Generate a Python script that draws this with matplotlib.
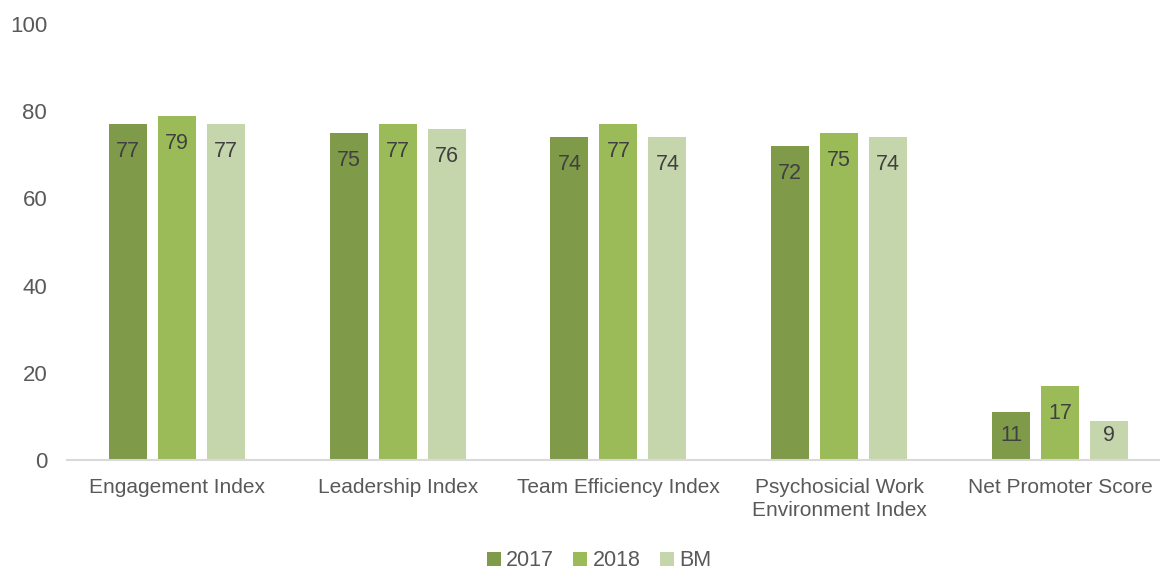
import numpy as np
import matplotlib
matplotlib.use("Agg")
import matplotlib.pyplot as plt

categories = ["Engagement Index", "Leadership Index", "Team Efficiency Index",
              "Psychosicial Work\nEnvironment Index", "Net Promoter Score"]
series_names = ["2017", "2018", "BM"]
values_2017 = [77, 75, 74, 72, 11]
values_2018 = [79, 77, 77, 75, 17]
values_bm = [77, 76, 74, 74, 9]
y_ticks = [0, 20, 40, 60, 80, 100]

colors = ["#7f9a48", "#9bbb59", "#c6d6ac"]
text_color = "#595959"
label_color = "#404040"

plt.rcParams["font.family"] = ["Liberation Sans", "DejaVu Sans"]

fig = plt.figure(figsize=(11.6, 5.7), dpi=100)
ax = fig.add_axes([66.6 / 1160, 110 / 570, 1103.75 / 1160, 436 / 570])

x = np.arange(len(categories))
width = 0.172
step = 0.222
all_series = [values_2017, values_2018, values_bm]
for i, (vals, col) in enumerate(zip(all_series, colors)):
    b = ax.bar(x + (i - 1) * step, vals, width, color=col, label=series_names[i],
               zorder=2)
    for rect, v in zip(b, vals):
        # label sits just inside the top, but not lower than a floor for short bars
        ly = max(v - 6.3, 5.7)
        ax.text(rect.get_x() + rect.get_width() / 2, ly, str(v),
                ha="center", va="center", fontsize=15.5, color=label_color)

ax.set_xlim(-0.5, len(categories) - 0.5)
ax.set_ylim(0, 100)
ax.set_yticks(y_ticks)
ax.set_xticks(x)
ax.set_xticklabels(categories, fontsize=15, color=text_color, linespacing=1.25)
ax.tick_params(axis="y", length=0, pad=14, labelsize=16, labelcolor=text_color)
ax.tick_params(axis="x", length=0, pad=13)
for s in ["top", "right", "left"]:
    ax.spines[s].set_visible(False)
ax.spines["bottom"].set_color("#d9d9d9")
ax.spines["bottom"].set_linewidth(1.5)

leg = fig.legend(loc="center", bbox_to_anchor=(599 / 1160, 9 / 570), ncol=3,
                 frameon=False, fontsize=15.5, handlelength=0.65, handleheight=0.65,
                 handletextpad=0.25, columnspacing=0.9, borderpad=0)
for t in leg.get_texts():
    t.set_color(text_color)

fig.savefig("out.png", dpi=100)
